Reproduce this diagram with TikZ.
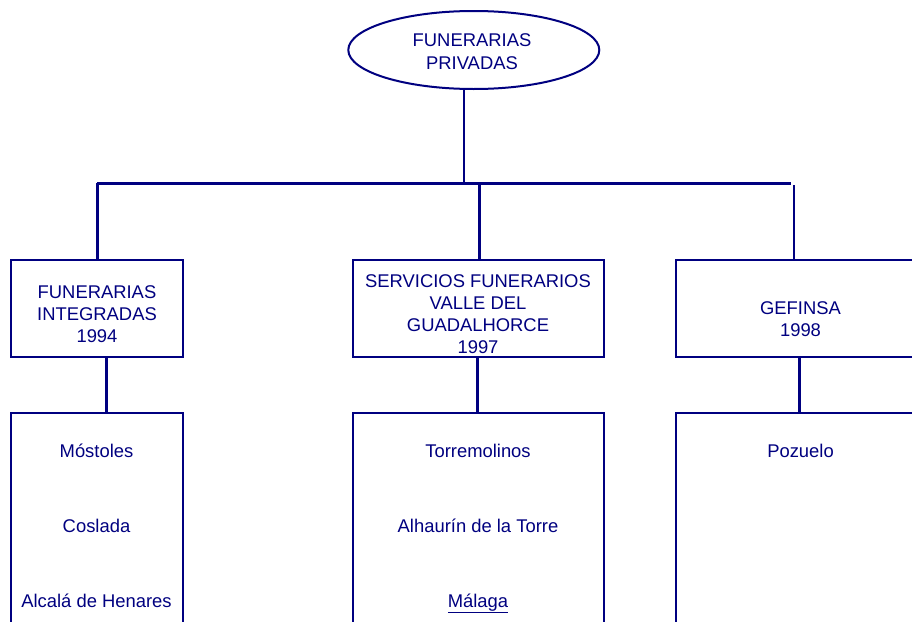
\documentclass[tikz,border=0pt]{standalone}
\usepackage{fontspec}
\setmainfont{Liberation Sans}
\usetikzlibrary{shapes.geometric}
\definecolor{navy}{RGB}{0,0,128}
\begin{document}
\begin{tikzpicture}[x=1pt,y=-1pt,
  txt/.style={text=navy, font=\fontsize{18.4}{22}\selectfont, anchor=base, inner sep=0pt},
  orgbox/.style={draw=navy, line width=2pt, rectangle, inner sep=0pt},
  oval/.style={draw=navy, line width=2pt, ellipse, inner sep=0pt, minimum width=251pt, minimum height=78pt},
  thick3/.style={draw=navy, line width=3pt},
  thin2/.style={draw=navy, line width=2pt}]
\useasboundingbox (0,0) rectangle (912,621);
\clip (0,0) rectangle (912,621);
\fill[white] (0,0) rectangle (912,621);

% top ellipse
\node[oval] (top) at (473.8,50) {};
\node[txt] (t1) at (472,46.5) {FUNERARIAS};
\node[txt] (t2) at (472,69) {PRIVADAS};

% level 1 boxes
\node[orgbox, minimum width=172pt, minimum height=97pt] (b1) at (97,308.5) {};
\node[orgbox, minimum width=251pt, minimum height=97pt] (b2) at (478.5,308.5) {};
\node[orgbox, minimum width=248pt, minimum height=97pt] (b3) at (800,308.5) {};

\node[txt] (b1a) at (97,298.5) {FUNERARIAS};
\node[txt] (b1b) at (97,320.5) {INTEGRADAS};
\node[txt] (b1c) at (97,342.5) {1994};

\node[txt] (b2a) at (478,287) {SERVICIOS FUNERARIOS};
\node[txt] (b2b) at (478,309) {VALLE DEL};
\node[txt] (b2c) at (478,331) {GUADALHORCE};
\node[txt] (b2d) at (478,353) {1997};

\node[txt] (b3a) at (800.5,314) {GEFINSA};
\node[txt] (b3b) at (800.5,336) {1998};

% level 2 boxes
\node[orgbox, minimum width=172pt, minimum height=247pt] (c1) at (97,536.5) {};
\node[orgbox, minimum width=251pt, minimum height=247pt] (c2) at (478.5,536.5) {};
\node[orgbox, minimum width=248pt, minimum height=247pt] (c3) at (800,536.5) {};

\node[txt] (c1a) at (96.5,457) {Móstoles};
\node[txt] (c1b) at (96.5,532.5) {Coslada};
\node[txt] (c1c) at (96.5,607) {Alcalá de Henares};

\node[txt] (c2a) at (478,457) {Torremolinos};
\node[txt] (c2b) at (478,532.5) {Alhaurín de la Torre};
\node[txt] (c2c) at (478,607) {\underline{Málaga}};

\node[txt] (c3a) at (800.5,457) {Pozuelo};

% connectors
\coordinate (j0) at (464,183);
\coordinate (bl) at (97,183);
\coordinate (br) at (791,183);
\coordinate (j1) at (97,183);
\coordinate (j2) at (479,183);
\coordinate (j3) at (794,185);

\draw[thin2] (top.south -| j0) -- (j0);
\draw[thick3] (bl) -- (br);
\draw[thick3] (j1) -- (j1 |- b1.north);
\draw[thick3] (j2) -- (j2 |- b2.north);
\draw[thin2] (j3) -- (j3 |- b3.north);

\draw[thick3] ([xshift=9pt]b1.south) -- ([xshift=9pt]c1.north);
\draw[thick3] ([xshift=-1.5pt]b2.south) -- ([xshift=-1.5pt]c2.north);
\draw[thick3] ([xshift=-1pt]b3.south) -- ([xshift=-1pt]c3.north);
\end{tikzpicture}
\end{document}
